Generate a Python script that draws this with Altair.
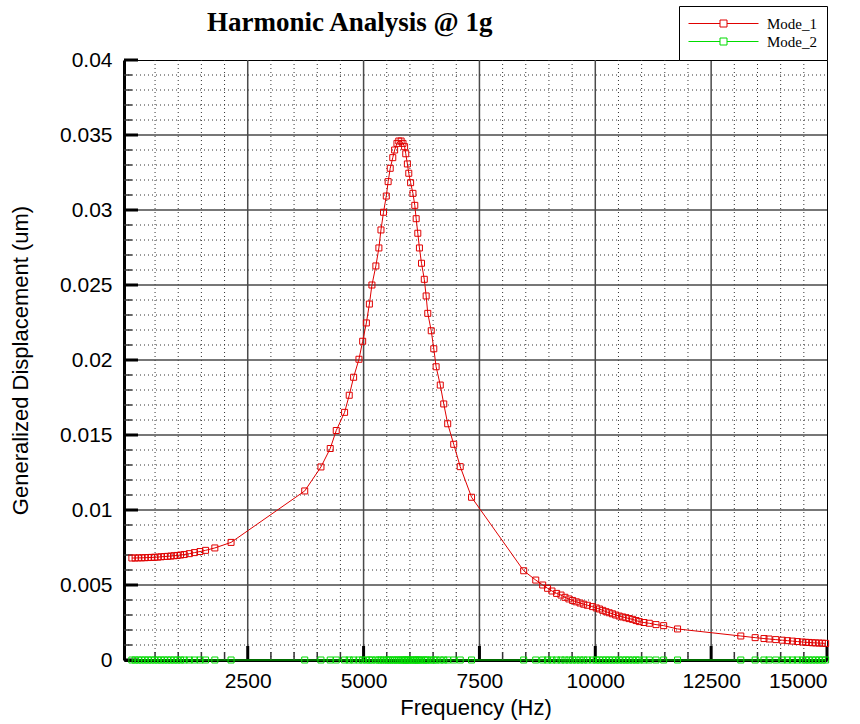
import altair as alt
import pandas as pd

# ---------------- data ----------------
freq = [
    0, 70, 140, 210, 280, 350, 420, 490, 560, 630, 700, 770, 840, 910, 980,
    1050, 1130, 1240, 1350, 1470, 1590, 1790, 2140,
    3730, 4080, 4280, 4410, 4590, 4690, 4785, 4900, 4980, 5060, 5125, 5180,
    5265, 5330, 5375, 5430, 5490, 5530, 5575, 5630, 5670, 5720, 5760, 5810,
    5850, 5885, 5910, 5945, 5975, 6015, 6065, 6105, 6135, 6170, 6205, 6250,
    6310, 6350, 6385, 6460, 6515, 6565, 6655, 6730, 6815, 6945, 7085, 7330,
    8455, 8715, 8865, 8970, 9065, 9165, 9260, 9345, 9430, 9510, 9590, 9670,
    9750, 9830, 9940, 10020, 10090, 10160, 10230, 10300, 10370, 10440, 10515,
    10590, 10660, 10730, 10805, 10880, 10950, 11050, 11165, 11310, 11475, 11775,
    13140, 13450, 13640, 13750, 13895, 14035, 14145, 14255, 14360, 14470, 14540,
    14610, 14685, 14755, 14830, 14900, 14970,
]
mode_1 = [
    0.00680, 0.00680, 0.00681, 0.00681, 0.00682, 0.00683, 0.00684, 0.00685,
    0.00686, 0.00688, 0.00690, 0.00691, 0.00693, 0.00695, 0.00697,
    0.00700, 0.00703, 0.00709, 0.00716, 0.00723, 0.00731, 0.00747, 0.00784,
    0.01127, 0.01287, 0.01410, 0.01530, 0.01651, 0.01765, 0.01885, 0.02005,
    0.02125, 0.02247, 0.02373, 0.02500, 0.02627, 0.02747, 0.02867, 0.02985,
    0.03093, 0.03189, 0.03278, 0.03349, 0.03400, 0.03444, 0.03460, 0.03460,
    0.03444, 0.03422, 0.03375, 0.03307, 0.03245, 0.03182, 0.03111, 0.03031,
    0.02942, 0.02845, 0.02747, 0.02645, 0.02538, 0.02427, 0.02311, 0.02195,
    0.02075, 0.01955, 0.01833, 0.01707, 0.01575, 0.01438, 0.01289, 0.01085,
    0.00595, 0.00533, 0.00500, 0.00478, 0.00460, 0.00444, 0.00433, 0.00418,
    0.00407, 0.00397, 0.00388, 0.00380, 0.00372, 0.00365, 0.00356, 0.00347,
    0.00340, 0.00331, 0.00322, 0.00315, 0.00308, 0.00300, 0.00293, 0.00287,
    0.00282, 0.00276, 0.00271, 0.00263, 0.00256, 0.00250, 0.00245, 0.00236,
    0.00229, 0.00207,
    0.00160, 0.00149, 0.00143, 0.00140, 0.00136, 0.00132, 0.00129, 0.00126,
    0.00123, 0.00120, 0.00118, 0.00117, 0.00115, 0.00114, 0.00113, 0.00112,
    0.00111,
]
mode_2 = [0.0] * len(freq)

series_names = ["Mode_1", "Mode_2"]
series_colors = ["#e00000", "#00dc00"]
title_text = "Harmonic Analysis @ 1g"
x_title = "Frequency (Hz)"
y_title = "Generalized Displacement (um)"

x_labels = [2500, 5000, 7500, 10000, 12500, 15000]
x_major_grid = [2500, 5000, 7500, 10000, 12500]
x_minor = [500, 1000, 1500, 2000, 3000, 3500, 4000, 4500, 5500, 6000, 6500,
           7000, 8000, 8500, 9000, 9500, 10500, 11000, 11500, 12000, 13000,
           13500, 14000, 14500]
y_labels = [0, 0.005, 0.01, 0.015, 0.02, 0.025, 0.03, 0.035, 0.04]
y_major_grid = [0.005, 0.01, 0.015, 0.02, 0.025, 0.03, 0.035]
y_minor = [0.001, 0.002, 0.003, 0.004, 0.006, 0.007, 0.008, 0.009,
           0.011, 0.012, 0.013, 0.014, 0.016, 0.017, 0.018, 0.019,
           0.021, 0.022, 0.023, 0.024, 0.026, 0.027, 0.028, 0.029,
           0.031, 0.032, 0.033, 0.034, 0.036, 0.037, 0.038, 0.039]

# ---------------- layout ----------------
W, H = 703, 600
xs = alt.Scale(domain=[-170, 15000], nice=False, zero=False)
ys = alt.Scale(domain=[0, 0.04], nice=False, zero=False)

axis_text = dict(labelFont="Liberation Sans", labelFontSize=21, labelColor="black",
                 titleFont="Liberation Sans", titleFontSize=22, titleColor="black",
                 titleFontWeight="normal", grid=False, ticks=False,
                 domainWidth=3, domainColor="black", zindex=0)
x_axis = alt.Axis(values=x_labels, format="d", labelPadding=10,
                  titlePadding=6, **axis_text)
y_axis = alt.Axis(values=y_labels, format="~g", labelPadding=12,
                  titleX=-92, titleY=H / 2, **axis_text)

df = pd.concat([
    pd.DataFrame({"freq": freq, "disp": mode_1, "series": series_names[0]}),
    pd.DataFrame({"freq": freq, "disp": mode_2, "series": series_names[1]}),
])


def vdf(v):
    return pd.DataFrame({"v": v})


def xenc():
    return alt.X("v:Q", scale=xs, axis=x_axis, title=x_title)


def yenc():
    return alt.Y("v:Q", scale=ys, axis=y_axis, title=y_title)


dotted = dict(color="#333333", strokeWidth=1, strokeDash=[1, 3])
solid = dict(color="#4a4a4a", strokeWidth=1.5)

minor_v = alt.Chart(vdf(x_minor)).mark_rule(**dotted).encode(
    x=xenc(), y=alt.value(0), y2=alt.value(H))
minor_h = alt.Chart(vdf(y_minor)).mark_rule(**dotted).encode(
    y=yenc(), x=alt.value(0), x2=alt.value(W))
major_v = alt.Chart(vdf(x_major_grid)).mark_rule(**solid).encode(
    x=xenc(), y=alt.value(0), y2=alt.value(H))
major_h = alt.Chart(vdf(y_major_grid)).mark_rule(**solid).encode(
    y=yenc(), x=alt.value(0), x2=alt.value(W))

tick_xmaj = alt.Chart(vdf(x_labels)).mark_rule(color="black", strokeWidth=3).encode(
    x=xenc(), y=alt.value(H), y2=alt.value(H - 14))
tick_xmin = alt.Chart(vdf(x_minor)).mark_rule(color="#333333", strokeWidth=1.5).encode(
    x=xenc(), y=alt.value(H), y2=alt.value(H - 8))
tick_ymaj = alt.Chart(vdf(y_labels)).mark_rule(color="black", strokeWidth=3).encode(
    y=yenc(), x=alt.value(0), x2=alt.value(14))
tick_ymin = alt.Chart(vdf(y_minor)).mark_rule(color="#333333", strokeWidth=1.5).encode(
    y=yenc(), x=alt.value(0), x2=alt.value(8))

lines = alt.Chart(df).mark_line(
    strokeWidth=1,
    point=alt.OverlayMarkDef(shape="square", filled=False, size=36, strokeWidth=1),
).encode(
    x=alt.X("freq:Q", scale=xs, axis=x_axis, title=x_title),
    y=alt.Y("disp:Q", scale=ys, axis=y_axis, title=y_title),
    color=alt.Color("series:N",
                    scale=alt.Scale(domain=series_names, range=series_colors),
                    legend=alt.Legend(
                        title=None, orient="none", legendX=555, legendY=-54,
                        symbolType="M-10,0H-1M1,0H10M-1,-1H1V1H-1Z",
                        symbolSize=49, symbolStrokeWidth=1,
                        symbolFillColor="white", symbolOffset=27,
                        labelOffset=36, labelFont="Liberation Serif",
                        labelFontSize=15, labelColor="black",
                        fillColor="white", strokeColor="black", padding=10,
                        rowPadding=2)),
    order="freq:Q",
)

title_mark = alt.Chart(pd.DataFrame({"t": [title_text]})).mark_text(
    font="Liberation Serif", fontSize=27, fontWeight="bold", color="black",
    align="left", baseline="alphabetic",
).encode(text="t:N", x=alt.value(83), y=alt.value(-29))

chart = alt.layer(
    minor_v, minor_h, major_v, major_h,
    tick_xmin, tick_xmaj, tick_ymin, tick_ymaj,
    lines, title_mark,
).properties(
    width=W, height=H,
    background="white",
    padding={"left": 124, "top": 60, "right": 33, "bottom": 64},
    autosize=alt.AutoSizeParams(type="none"),
).configure_view(
    stroke="black", strokeWidth=1
)

chart.save("out.html", embed_options={"renderer": "svg", "actions": False})
